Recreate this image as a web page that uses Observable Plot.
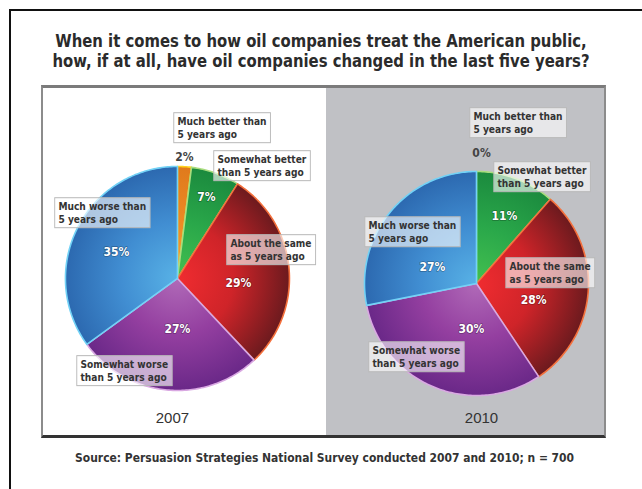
<!DOCTYPE html>
<html><head><meta charset="utf-8">
<script src="https://cdn.jsdelivr.net/npm/d3@7"></script>
<script src="https://cdn.jsdelivr.net/npm/@observablehq/plot@0.6"></script>
<style>
body{margin:0;background:#fff;width:642px;height:489px;overflow:hidden;position:relative;font-family:"Liberation Sans Narrow","DejaVu Sans",sans-serif;font-stretch:condensed;}
#frame{position:absolute;left:9px;top:9px;width:700px;height:600px;border-top:2px solid #111;border-left:2px solid #111;}
#title{position:absolute;left:0;top:32px;width:642px;text-align:center;font-weight:bold;font-size:16.8px;line-height:19.6px;color:#2b2b2b;white-space:nowrap;}
#title span{display:inline-block;transform-origin:center top;}
#panel{position:absolute;left:41px;top:85px;width:561px;height:347px;border-top:3px solid #7b7b7b;border-left:2px solid #8c8c8c;border-right:2px solid #8c8c8c;border-bottom:3px solid #333;background:linear-gradient(to right,#fff 0,#fff 283px,#c0c1c5 283px);}
#chart{position:absolute;left:43px;top:88px;}
#source{position:absolute;left:0;width:650px;top:450px;text-align:center;font-weight:bold;font-size:13px;line-height:15px;color:#333;white-space:nowrap;}
#source span{display:inline-block;transform-origin:center;}
</style></head>
<body>
<div id="frame"></div>
<div id="title"><span>When it comes to how oil companies treat the American public,<br>how, if at all, have oil companies changed in the last five years?</span></div>
<div id="panel"></div>
<div id="chart"></div>
<div id="source"><span>Source: Persuasion Strategies National Survey conducted 2007 and 2010; n = 700</span></div>
<script>
// ---- data ----
const categories = ["Much better than 5 years ago", "Somewhat better than 5 years ago", "About the same as 5 years ago", "Somewhat worse than 5 years ago", "Much worse than 5 years ago"];
const categoryLabels = ["Much better than\n5 years ago", "Somewhat better\nthan 5 years ago", "About the same\nas 5 years ago", "Somewhat worse\nthan 5 years ago", "Much worse than\n5 years ago"];
const years = ["2007", "2010"];
const values2007 = [2, 7, 29, 27, 35];
const values2010 = [0, 11, 28, 30, 27];
const valuesByYear = {"2007": values2007, "2010": values2010};

// ---- layout (units = pie radius) ----
const pieCenter = {"2007": [0, 0.018], "2010": [2.67, -0.027]};
const pctOffset = {
  "2007": [[0.0625, 1.08], [0.259, 0.723], [0.545, -0.045], [0, -0.455], [-0.545, 0.232]],
  "2010": [[0.045, 1.16], [0.25, 0.6], [0.51, -0.15], [-0.045, -0.41], [-0.393, 0.143]]
};
const boxOffset = {
  "2007": [[0.0, 1.455], [0.357, 1.116], [0.473, 0.366], [-0.866, -0.714], [-1.063, 0.696]],
  "2010": [[-0.027, 1.545], [0.1875, 1.0625], [0.295, 0.205], [-0.929, -0.545], [-0.964, 0.571]]
};
const yearOffset = {"2007": [-0.045, -1.25], "2010": [0.045, -1.205]};
const gradStops = [
  ["#f7a23a", "#ec8a24", "#e07a1c"],
  ["#44c050", "#2aa84a", "#1b8a3e"],
  ["#f02c30", "#cf2429", "#6c1a1e"],
  ["#b06ab8", "#943fa0", "#6a2888"],
  ["#58b2e6", "#418ed2", "#2c69b0"]
];
const edgeColors = ["#ffd21e", "#a8dc7e", "#f4703c", "#d9a8e2", "#72d2f6"];

// ---- build slices ----
const pie = d3.pie().sort(null).value(d => d);
const slicePts = [];
const pctData = [];
const boxData = [];
years.forEach(yr => {
  const [cx, cy] = pieCenter[yr];
  const arcs = pie(valuesByYear[yr]);
  arcs.forEach((a, i) => {
    pctData.push({yr, i, x: cx + pctOffset[yr][i][0], y: cy + pctOffset[yr][i][1], text: valuesByYear[yr][i] + "%"});
    boxData.push({yr, i, x: cx + boxOffset[yr][i][0], y: cy + boxOffset[yr][i][1], text: categoryLabels[i]});
    if (a.endAngle - a.startAngle <= 0) return;
    const key = yr + "-" + i;
    const n = Math.max(2, Math.ceil((a.endAngle - a.startAngle) / (Math.PI / 180)));
    slicePts.push({key, yr, i, x: cx, y: cy});
    for (let k = 0; k <= n; k++) {
      const t = a.startAngle + (a.endAngle - a.startAngle) * k / n;
      slicePts.push({key, yr, i, x: cx + Math.sin(t), y: cy + Math.cos(t)});
    }
  });
});

const W = 561, H = 347;
const FONT = '"Liberation Sans Narrow","DejaVu Sans",sans-serif';
const chart = Plot.plot({
  width: W, height: H,
  margin: 0,
  x: {domain: [-1.196, 3.813], axis: null},
  y: {domain: [-1.384, 1.714], axis: null},
  color: {type: "identity"},
  style: {background: "transparent", fontFamily: FONT, fontStretch: "condensed"},
  marks: [
    Plot.line(slicePts, {x: "x", y: "y", z: "key", curve: "linear-closed",
      fill: d => `url(#g-${d.yr}-${d.i})`, stroke: d => edgeColors[d.i], strokeWidth: 1.6, strokeLinejoin: "round"}),
    Plot.text(boxData, {x: "x", y: "y", text: "text", textAnchor: "start", lineAnchor: "top",
      fontSize: 11, fontWeight: "bold", fill: "#333", lineHeight: 1.18}),
    Plot.text(pctData, {x: "x", y: "y", text: "text", fontSize: 12, fontWeight: "bold",
      fill: d => d.i === 0 ? "#444" : "#fff",
      stroke: d => d.i === 0 ? "none" : "#000", strokeOpacity: 0.3, strokeWidth: 1.5}),
    Plot.text(years, {x: d => pieCenter[d][0] + yearOffset[d][0], y: d => pieCenter[d][1] + yearOffset[d][1],
      text: d => d, fontSize: 15, fill: "#333", fontFamily: "Liberation Sans, Arial, sans-serif"})
  ]
});
document.getElementById("chart").appendChild(chart);

// gradients
const sx = chart.scale("x"), sy = chart.scale("y");
const ns = "http://www.w3.org/2000/svg";
const defs = document.createElementNS(ns, "defs");
years.forEach(yr => {
  const [cx, cy] = pieCenter[yr];
  const px = sx.apply(cx), py = sy.apply(cy), pr = sx.apply(cx + 1) - px;
  gradStops.forEach((st, i) => {
    const g = document.createElementNS(ns, "radialGradient");
    g.setAttribute("id", `g-${yr}-${i}`);
    g.setAttribute("gradientUnits", "userSpaceOnUse");
    g.setAttribute("cx", px); g.setAttribute("cy", py); g.setAttribute("r", pr);
    g.setAttribute("fx", px); g.setAttribute("fy", py);
    [[0, st[0]], [0.5, st[1]], [1, st[2]]].forEach(([o, c]) => {
      const s = document.createElementNS(ns, "stop");
      s.setAttribute("offset", o); s.setAttribute("stop-color", c);
      g.appendChild(s);
    });
    defs.appendChild(g);
  });
});
chart.insertBefore(defs, chart.firstChild);

// label boxes behind category labels (text narrowed to a condensed look)
const textGroups = chart.querySelectorAll('g[aria-label="text"]');
const labelGroup = textGroups[0];
labelGroup.querySelectorAll("text").forEach(t => {
  const b = t.getBBox();
  const r = document.createElementNS(ns, "rect");
  r.setAttribute("x", b.x - 4); r.setAttribute("y", b.y - 2);
  r.setAttribute("width", b.width + 8); r.setAttribute("height", b.height + 4);
  r.setAttribute("fill", "#fff"); r.setAttribute("fill-opacity", 0.62);
  r.setAttribute("stroke", "#b8b8b8"); r.setAttribute("stroke-width", 1);
  const tr = (t.getAttribute("transform") || "") + " scale(0.92,1)";
  r.setAttribute("transform", tr);
  t.setAttribute("transform", tr);
  t.parentNode.insertBefore(r, t);
});

// fit title/source widths
function fit(sel, target) {
  const s = document.querySelector(sel);
  const w = s.getBoundingClientRect().width;
  s.style.transform = `scaleX(${target / w})`;
}
fit("#title span", 537);
fit("#source span", 499);
</script>
</body></html>
